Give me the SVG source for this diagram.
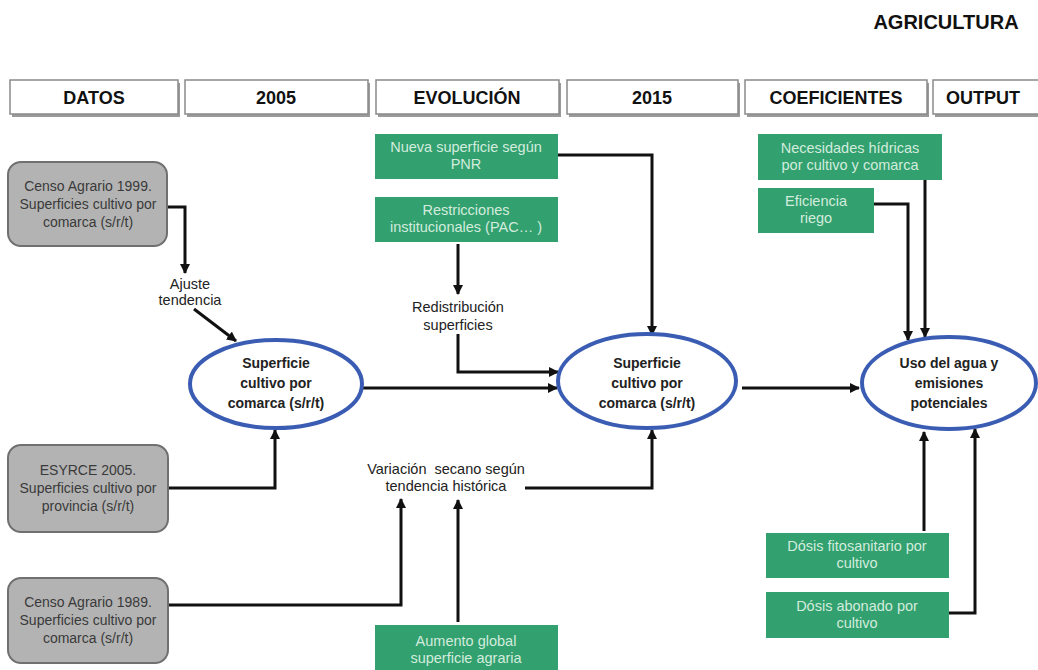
<svg xmlns="http://www.w3.org/2000/svg" width="1038" height="670" viewBox="0 0 1038 670">
<style>
.hdr{fill:#fff;stroke:#8a8a8a;stroke-width:1.5}
.hsh{fill:#9a9a9a}
.ht{font-family:"Liberation Sans",Arial,sans-serif;font-weight:bold;font-size:18px;fill:#111;text-anchor:middle}
.gray{fill:#b3b3b3;stroke:#707070;stroke-width:2}
.gt{font-family:"Liberation Sans",Arial,sans-serif;font-size:14px;fill:#3a3a3a;text-anchor:middle}
.green{fill:#33a06f}
.grt{font-family:"Liberation Sans",Arial,sans-serif;font-size:14.5px;fill:#d2ecdd;text-anchor:middle}
.ell{fill:#fff;stroke:#3a5db3;stroke-width:4}
.et{font-family:"Liberation Sans",Arial,sans-serif;font-weight:bold;font-size:14px;fill:#222;text-anchor:middle}
.lbl{font-family:"Liberation Sans",Arial,sans-serif;font-size:14.5px;fill:#222;text-anchor:middle}
.c{fill:none;stroke:#111;stroke-width:3;marker-end:url(#ah)}
</style>
<defs>
<marker id="ah" markerUnits="userSpaceOnUse" markerWidth="10" markerHeight="10" refX="9" refY="5" orient="auto">
<path d="M0,0 L10,5 L0,10 z" fill="#111"/>
</marker>
</defs>
<rect width="1038" height="670" fill="#fff"/>
<text x="946" y="29" font-family="Liberation Sans,Arial,sans-serif" font-weight="bold" font-size="20" fill="#111" text-anchor="middle">AGRICULTURA</text>

<g id="headers">
<rect class="hsh" x="12" y="83" width="168" height="34"/><rect class="hdr" x="10" y="80" width="168" height="34"/><text class="ht" x="94" y="104">DATOS</text>
<rect class="hsh" x="187" y="83" width="183" height="34"/><rect class="hdr" x="185" y="80" width="183" height="34"/><text class="ht" x="276" y="104">2005</text>
<rect class="hsh" x="378" y="83" width="183" height="34"/><rect class="hdr" x="376" y="80" width="183" height="34"/><text class="ht" x="467" y="104">EVOLUCIÓN</text>
<rect class="hsh" x="569" y="83" width="171" height="34"/><rect class="hdr" x="567" y="80" width="171" height="34"/><text class="ht" x="652" y="104">2015</text>
<rect class="hsh" x="747" y="83" width="182" height="34"/><rect class="hdr" x="745" y="80" width="182" height="34"/><text class="ht" x="836" y="104">COEFICIENTES</text>
<rect class="hsh" x="935" y="83" width="110" height="34"/><rect class="hdr" x="933" y="80" width="110" height="34"/><text class="ht" x="983" y="104">OUTPUT</text>
</g>

<g id="connectors">
<path class="c" d="M167,207 H185 V273"/>
<path class="c" d="M194,309 L236,341"/>
<path class="c" d="M168,488 H275 V430"/>
<path class="c" d="M363,388 H557"/>
<path class="c" d="M168,605 H401 V499"/>
<path class="c" d="M458,622 V500"/>
<path class="c" d="M525,488 H652 V430"/>
<path class="c" d="M558,155 H652 V335"/>
<path class="c" d="M458,244 V294"/>
<path class="c" d="M458,334 V372 H558"/>
<path class="c" d="M742,388 H859"/>
<path class="c" d="M925,180 V337"/>
<path class="c" d="M874,204 H908 V340"/>
<path class="c" d="M924,531 V432"/>
<path class="c" d="M949,613 H975 V429"/>
</g>

<g id="censo1999"><rect class="gray" x="8" y="162" width="159" height="84" rx="13"/>
<text class="gt" x="88" y="191">Censo Agrario 1999.</text><text class="gt" x="88" y="209">Superficies cultivo por</text><text class="gt" x="88" y="227">comarca (s/r/t)</text></g>
<g id="esyrce"><rect class="gray" x="8" y="445" width="160" height="87" rx="13"/>
<text class="gt" x="88" y="475">ESYRCE 2005.</text><text class="gt" x="88" y="493">Superficies cultivo por</text><text class="gt" x="88" y="511">provincia (s/r/t)</text></g>
<g id="censo1989"><rect class="gray" x="8" y="578" width="160" height="85" rx="13"/>
<text class="gt" x="88" y="607">Censo Agrario 1989.</text><text class="gt" x="88" y="625">Superficies cultivo por</text><text class="gt" x="88" y="643">comarca (s/r/t)</text></g>

<g id="ajuste"><text class="lbl" x="190" y="289">Ajuste</text><text class="lbl" x="190" y="305">tendencia</text></g>

<g id="sup2005"><ellipse class="ell" cx="276" cy="384" rx="86" ry="44"/>
<text class="et" x="276" y="368">Superficie</text><text class="et" x="276" y="388">cultivo por</text><text class="et" x="276" y="408">comarca (s/r/t)</text></g>

<g id="nueva"><rect class="green" x="375" y="134" width="183" height="45"/>
<text class="grt" x="466" y="152">Nueva superficie según</text><text class="grt" x="466" y="169">PNR</text></g>
<g id="restricciones"><rect class="green" x="375" y="197" width="183" height="45"/>
<text class="grt" x="466" y="215">Restricciones</text><text class="grt" x="466" y="232">institucionales (PAC… )</text></g>
<g id="redistribucion"><text class="lbl" x="458" y="312">Redistribución</text><text class="lbl" x="458" y="330">superficies</text></g>
<g id="variacion"><text class="lbl" x="446" y="474" font-size="14" xml:space="preserve">Variación  secano según</text><text class="lbl" x="446" y="491" font-size="14">tendencia histórica</text></g>
<g id="aumento"><rect class="green" x="375" y="625" width="183" height="50"/>
<text class="grt" x="466" y="646">Aumento global</text><text class="grt" x="466" y="663">superficie agraria</text></g>

<g id="sup2015"><ellipse class="ell" cx="647" cy="381" rx="89" ry="47"/>
<text class="et" x="647" y="368">Superficie</text><text class="et" x="647" y="388">cultivo por</text><text class="et" x="647" y="408">comarca (s/r/t)</text></g>

<g id="necesidades"><rect class="green" x="758" y="134" width="184" height="46"/>
<text class="grt" x="850" y="153">Necesidades hídricas</text><text class="grt" x="850" y="170">por cultivo y comarca</text></g>
<g id="eficiencia"><rect class="green" x="758" y="188" width="116" height="45"/>
<text class="grt" x="816" y="206">Eficiencia</text><text class="grt" x="816" y="223">riego</text></g>
<g id="fitosanitario"><rect class="green" x="766" y="533" width="183" height="45"/>
<text class="grt" x="857" y="551">Dósis fitosanitario por</text><text class="grt" x="857" y="568">cultivo</text></g>
<g id="abonado"><rect class="green" x="766" y="592" width="183" height="46"/>
<text class="grt" x="857" y="611">Dósis abonado por</text><text class="grt" x="857" y="628">cultivo</text></g>

<g id="uso"><ellipse class="ell" cx="949" cy="383" rx="87" ry="46"/>
<text class="et" x="949" y="368">Uso del agua y</text><text class="et" x="949" y="388">emisiones</text><text class="et" x="949" y="408">potenciales</text></g>
</svg>
